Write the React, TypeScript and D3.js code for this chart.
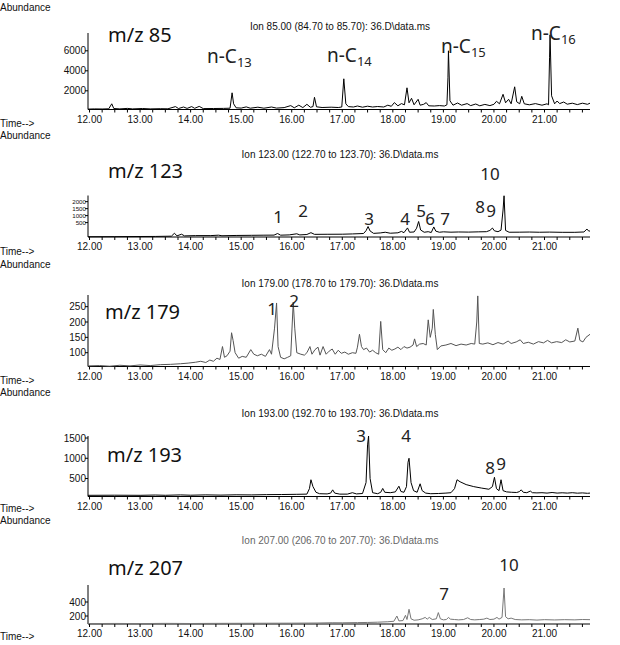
import React from "react";
import * as d3 from "d3";

type Pt = [number, number];

// ---------- data ----------
const timeTicks = [12, 13, 14, 15, 16, 17, 18, 19, 20, 21];
const minorTicks = d3.range(12, 21.9, 0.25);

const mz85: Pt[] = [
  [11.97, 170], [12.1, 190], [12.25, 180], [12.38, 200], [12.44, 700], [12.48, 230], [12.6, 190], [12.75, 240],
  [12.85, 190], [13.05, 230], [13.2, 190], [13.4, 210], [13.55, 200], [13.7, 420], [13.76, 230], [13.86, 380],
  [13.93, 240], [14.02, 420], [14.08, 250], [14.17, 440], [14.25, 220], [14.45, 230], [14.65, 240], [14.78, 260],
  [14.82, 1800], [14.85, 700], [14.9, 300], [15.0, 270], [15.1, 390], [15.18, 260], [15.33, 360], [15.45, 260],
  [15.6, 380], [15.7, 270], [15.85, 320], [15.98, 520], [16.05, 300], [16.14, 560], [16.22, 320], [16.3, 650],
  [16.37, 350], [16.42, 420], [16.45, 1350], [16.49, 400], [16.6, 330], [16.78, 360], [16.92, 330], [16.99, 380],
  [17.03, 3200], [17.07, 700], [17.12, 420], [17.22, 380], [17.3, 480], [17.4, 360], [17.5, 460], [17.6, 380],
  [17.7, 430], [17.82, 380], [17.9, 560], [17.97, 450], [18.03, 820], [18.1, 500], [18.17, 720], [18.23, 600],
  [18.28, 2300], [18.32, 800], [18.37, 1250], [18.42, 600], [18.5, 1150], [18.54, 560], [18.61, 650], [18.66, 820],
  [18.71, 500], [18.82, 480], [18.92, 520], [19.02, 480], [19.07, 600], [19.09, 3300], [19.1, 6000], [19.13, 1000],
  [19.19, 560], [19.28, 780], [19.36, 560], [19.47, 720], [19.54, 520], [19.64, 680], [19.72, 500], [19.82, 640],
  [19.92, 520], [20.0, 650], [20.05, 950], [20.11, 700], [20.18, 1650], [20.23, 800], [20.29, 1150], [20.34, 700],
  [20.41, 2400], [20.45, 900], [20.51, 700], [20.55, 1450], [20.6, 700], [20.7, 600], [20.82, 720], [20.95, 560],
  [21.05, 700], [21.08, 600], [21.1, 5300], [21.11, 7600], [21.14, 1500], [21.2, 700], [21.25, 980], [21.3, 720],
  [21.38, 880], [21.45, 660], [21.55, 760], [21.65, 620], [21.75, 760], [21.85, 650], [21.9, 760],
];

const mz123: Pt[] = [
  [11.97, -510], [12.5, -505], [13.0, -495], [13.3, -490], [13.62, -470], [13.68, -260], [13.73, -450], [13.82, -330],
  [13.88, -450], [14.1, -430], [14.4, -430], [14.55, -400], [14.62, -440], [14.9, -420], [15.2, -410], [15.45, -400],
  [15.65, -395], [15.72, -280], [15.78, -400], [15.95, -380], [16.1, -300], [16.16, -380], [16.3, -350], [16.38, -220],
  [16.45, -340], [16.7, -335], [17.0, -330], [17.2, -310], [17.42, -280], [17.47, -80], [17.51, 220], [17.55, -100],
  [17.62, -270], [17.75, -240], [17.85, -190], [17.95, -260], [18.1, -230], [18.17, -130], [18.22, -220], [18.29, 120],
  [18.33, -190], [18.42, -170], [18.47, 100], [18.51, 580], [18.55, -30], [18.62, -190], [18.7, -150], [18.76, -210],
  [18.81, 190], [18.85, -110], [18.92, -190], [19.0, -160], [19.15, -185], [19.3, -170], [19.5, -180], [19.7, -160],
  [19.85, -150], [19.92, -60], [19.97, 110], [20.01, -90], [20.08, -150], [20.14, -40], [20.18, 1400], [20.2, 2420],
  [20.23, -60], [20.3, -190], [20.5, -185], [20.7, -175], [20.9, -190], [21.1, -180], [21.35, -195], [21.6, -195],
  [21.78, -170], [21.84, 40], [21.87, -90], [21.9, -110],
];

const mz179: Pt[] = [
  [11.97, 57], [12.2, 58], [12.4, 56], [12.6, 59], [12.8, 57], [13.0, 60], [13.2, 58], [13.4, 61], [13.6, 62],
  [13.8, 64], [13.95, 66], [14.1, 69], [14.2, 72], [14.3, 68], [14.38, 76], [14.45, 72], [14.52, 82], [14.58, 78],
  [14.63, 120], [14.67, 85], [14.72, 90], [14.78, 105], [14.81, 165], [14.84, 140], [14.88, 100], [14.95, 82],
  [15.02, 88], [15.1, 85], [15.19, 110], [15.25, 95], [15.32, 90], [15.4, 95], [15.48, 88], [15.56, 110], [15.6, 95],
  [15.66, 180], [15.7, 262], [15.73, 120], [15.78, 85], [15.85, 80], [15.92, 85], [15.98, 90], [16.03, 265],
  [16.06, 180], [16.1, 100], [16.18, 95], [16.25, 92], [16.3, 100], [16.36, 120], [16.4, 95], [16.46, 110],
  [16.52, 118], [16.56, 92], [16.62, 120], [16.68, 95], [16.74, 105], [16.8, 112], [16.86, 95], [16.92, 108],
  [16.98, 98], [17.05, 102], [17.12, 95], [17.2, 100], [17.27, 98], [17.3, 118], [17.34, 160], [17.38, 120],
  [17.42, 110], [17.48, 115], [17.54, 102], [17.6, 108], [17.66, 100], [17.72, 95], [17.76, 202], [17.8, 110],
  [17.86, 100], [17.92, 115], [17.98, 108], [18.04, 112], [18.1, 118], [18.16, 110], [18.22, 120], [18.28, 115],
  [18.34, 118], [18.4, 125], [18.43, 145], [18.47, 120], [18.53, 128], [18.6, 130], [18.66, 125], [18.7, 207],
  [18.74, 150], [18.78, 180], [18.8, 241], [18.84, 160], [18.88, 110], [18.95, 122], [19.05, 125], [19.15, 130],
  [19.25, 123], [19.35, 128], [19.45, 125], [19.55, 130], [19.62, 128], [19.66, 200], [19.68, 285], [19.71, 130],
  [19.78, 128], [19.88, 132], [19.98, 126], [20.08, 133], [20.18, 128], [20.28, 138], [20.34, 130], [20.44, 135],
  [20.52, 142], [20.58, 130], [20.68, 134], [20.78, 128], [20.88, 136], [20.98, 132], [21.06, 140], [21.14, 132],
  [21.24, 136], [21.34, 133], [21.42, 142], [21.5, 135], [21.6, 138], [21.66, 180], [21.7, 140], [21.76, 135],
  [21.82, 150], [21.9, 160],
];

const mz193: Pt[] = [
  [11.97, 85], [12.5, 88], [13.0, 85], [13.3, 92], [13.5, 86], [13.8, 95], [14.0, 88], [14.3, 96], [14.6, 90],
  [14.9, 98], [15.2, 95], [15.5, 102], [15.8, 105], [16.1, 110], [16.3, 115], [16.35, 250], [16.38, 470],
  [16.42, 300], [16.48, 160], [16.55, 125], [16.7, 120], [16.77, 140], [16.81, 220], [16.85, 140], [16.95, 115],
  [17.1, 115], [17.2, 150], [17.28, 120], [17.4, 130], [17.47, 400], [17.5, 1330], [17.52, 1550], [17.55, 500],
  [17.6, 150], [17.7, 125], [17.76, 160], [17.8, 255], [17.84, 160], [17.95, 150], [18.05, 170], [18.12, 310],
  [18.16, 180], [18.22, 160], [18.27, 300], [18.3, 900], [18.32, 1000], [18.36, 400], [18.41, 200], [18.48, 160],
  [18.54, 370], [18.58, 200], [18.65, 140], [18.75, 125], [18.9, 130], [19.05, 140], [19.15, 150], [19.22, 250],
  [19.27, 470], [19.33, 420], [19.45, 350], [19.6, 300], [19.75, 265], [19.9, 235], [19.97, 300], [20.01, 530],
  [20.05, 250], [20.1, 200], [20.14, 470], [20.18, 200], [20.25, 170], [20.35, 160], [20.45, 155], [20.5, 175],
  [20.54, 220], [20.58, 160], [20.65, 150], [20.72, 190], [20.76, 150], [20.85, 145], [20.95, 150], [21.05, 140],
  [21.15, 155], [21.25, 140], [21.35, 148], [21.45, 140], [21.55, 150], [21.65, 138], [21.75, 145], [21.85, 135],
  [21.9, 140],
];

const mz207: Pt[] = [
  [11.97, 92], [12.5, 94], [13.0, 92], [13.5, 95], [14.0, 93], [14.5, 95], [15.0, 96], [15.5, 97], [16.0, 98],
  [16.5, 100], [16.8, 104], [17.0, 103], [17.3, 106], [17.5, 108], [17.7, 112], [17.9, 118], [18.02, 125],
  [18.08, 200], [18.12, 130], [18.2, 135], [18.25, 210], [18.28, 150], [18.32, 296], [18.36, 160], [18.42, 140],
  [18.5, 145], [18.58, 160], [18.64, 180], [18.68, 155], [18.72, 180], [18.78, 150], [18.86, 160], [18.9, 249],
  [18.94, 160], [19.0, 145], [19.06, 150], [19.1, 180], [19.14, 155], [19.22, 150], [19.3, 145], [19.4, 150],
  [19.48, 175], [19.54, 150], [19.62, 145], [19.72, 150], [19.8, 155], [19.86, 170], [19.92, 150], [20.0, 155],
  [20.06, 180], [20.1, 155], [20.16, 180], [20.2, 600], [20.23, 190], [20.28, 160], [20.34, 170], [20.42, 150],
  [20.55, 145], [20.7, 148], [20.85, 142], [21.0, 148], [21.2, 144], [21.4, 148], [21.6, 145], [21.75, 150],
  [21.9, 148],
];

const ticks85 = [2000, 4000, 6000];
const ticks123 = [500, 1000, 1500, 2000];
const ticks179 = [100, 150, 200, 250];
const ticks193 = [500, 1000, 1500];
const ticks207 = [200, 400];

const titles = [
  "Ion 85.00 (84.70 to 85.70): 36.D\\data.ms",
  "Ion 123.00 (122.70 to 123.70): 36.D\\data.ms",
  "Ion 179.00 (178.70 to 179.70): 36.D\\data.ms",
  "Ion 193.00 (192.70 to 193.70): 36.D\\data.ms",
  "Ion 207.00 (206.70 to 207.70): 36.D\\data.ms",
];
const ionNames = ["m/z 85", "m/z 123", "m/z 179", "m/z 193", "m/z 207"];

// annotation texts: [text, subscript]
const alkaneLabels: [string, string][] = [["n-C", "13"], ["n-C", "14"], ["n-C", "15"], ["n-C", "16"]];
const peakNums123 = ["1", "2", "3", "4", "5", "6", "7", "8", "9", "10"];
const peakNums179 = ["1", "2"];
const peakNums193 = ["3", "4", "8", "9"];
const peakNums207 = ["7", "10"];

// ---------- layout ----------
const X0 = 88;
const X1 = 590;
const SMALL = "'Liberation Sans', Arial, sans-serif";
const BIG = "'Noto Sans', 'DejaVu Sans', sans-serif";

type Panel = {
  data: Pt[];
  ticks: number[];
  tickFont: number;
  domain: [number, number];
  axisY: number;
  topY: number;
  titleY: number;
  abundY: number;
  timeY: number;
  color: string;
  titleColor: string;
  nameX: number;
  nameY: number;
  marks: { text: string; sub?: string; x: number; y: number }[];
};

const panels: Panel[] = [
  {
    data: mz85, ticks: ticks85, tickFont: 10, domain: [130, 7780], axisY: 109.5, topY: 33, titleY: 30, abundY: 11, timeY: 127,
    color: "#000", titleColor: "#111", nameX: 108, nameY: 42,
    marks: [
      { text: alkaneLabels[0][0], sub: alkaneLabels[0][1], x: 207, y: 63 },
      { text: alkaneLabels[1][0], sub: alkaneLabels[1][1], x: 327, y: 62 },
      { text: alkaneLabels[2][0], sub: alkaneLabels[2][1], x: 441, y: 53 },
      { text: alkaneLabels[3][0], sub: alkaneLabels[3][1], x: 531, y: 40 },
    ],
  },
  {
    data: mz123, ticks: ticks123, tickFont: 6.2, domain: [-530, 2440], axisY: 237, topY: 195.5, titleY: 158, abundY: 139, timeY: 255,
    color: "#000", titleColor: "#111", nameX: 108, nameY: 178,
    marks: [
      { text: peakNums123[0], x: 278, y: 223 },
      { text: peakNums123[1], x: 303, y: 217 },
      { text: peakNums123[2], x: 369, y: 225 },
      { text: peakNums123[3], x: 405, y: 225 },
      { text: peakNums123[4], x: 421, y: 217 },
      { text: peakNums123[5], x: 430, y: 225 },
      { text: peakNums123[6], x: 445, y: 225 },
      { text: peakNums123[7], x: 480, y: 213 },
      { text: peakNums123[8], x: 491, y: 217 },
      { text: peakNums123[9], x: 490, y: 180 },
    ],
  },
  {
    data: mz179, ticks: ticks179, tickFont: 10, domain: [55, 288], axisY: 366.5, topY: 295, titleY: 287, abundY: 268, timeY: 384,
    color: "#555", titleColor: "#111", nameX: 105, nameY: 319,
    marks: [
      { text: peakNums179[0], x: 272, y: 315 },
      { text: peakNums179[1], x: 294, y: 307 },
    ],
  },
  {
    data: mz193, ticks: ticks193, tickFont: 10, domain: [56, 1550], axisY: 496.5, topY: 436, titleY: 417, abundY: 396, timeY: 512,
    color: "#000", titleColor: "#111", nameX: 107, nameY: 462,
    marks: [
      { text: peakNums193[0], x: 361, y: 442 },
      { text: peakNums193[1], x: 406, y: 442 },
      { text: peakNums193[2], x: 490, y: 474 },
      { text: peakNums193[3], x: 501, y: 470 },
    ],
  },
  {
    data: mz207, ticks: ticks207, tickFont: 10, domain: [86, 643], axisY: 624, topY: 585, titleY: 544, abundY: 524, timeY: 640,
    color: "#777", titleColor: "#666", nameX: 108, nameY: 575,
    marks: [
      { text: peakNums207[0], x: 444, y: 600 },
      { text: peakNums207[1], x: 509, y: 571 },
    ],
  },
];

function PanelView({ p, idx, x }: { p: Panel; idx: number; x: d3.ScaleLinear<number, number> }) {
  const y = d3.scaleLinear().domain(p.domain).range([p.axisY, p.topY]);
  const line = d3
    .line<Pt>()
    .x((d) => x(d[0]))
    .y((d) => y(d[1]));
  return (
    <g>
      <text x={0} y={p.abundY} fontFamily={SMALL} fontSize={10} fill="#111">Abundance</text>
      <text x={0} y={p.timeY} fontFamily={SMALL} fontSize={10} fill="#111">Time--&gt;</text>
      <text x={340} y={p.titleY} textAnchor="middle" fontFamily={SMALL} fontSize={10} fill={p.titleColor}>
        {titles[idx]}
      </text>
      <line x1={X0} x2={X1} y1={p.axisY} y2={p.axisY} stroke="#000" strokeWidth={1} />
      <line x1={X0} x2={X0} y1={p.axisY} y2={p.topY} stroke="#000" strokeWidth={1} />
      {minorTicks.map((t, i) => (
        <line key={"m" + i} x1={x(t)} x2={x(t)} y1={p.axisY} y2={p.axisY + 3} stroke="#000" strokeWidth={1} />
      ))}
      {timeTicks.map((t) => (
        <text key={t} x={x(t)} y={p.axisY + 13} textAnchor="middle" fontFamily={SMALL} fontSize={10} fill="#111">
          {t.toFixed(2)}
        </text>
      ))}
      {p.ticks.map((v) => (
        <g key={v}>
          <line x1={X0 - 3} x2={X0} y1={y(v)} y2={y(v)} stroke="#000" />
          <text x={X0 - 2} y={y(v) + p.tickFont * 0.35} textAnchor="end" fontFamily={SMALL} fontSize={p.tickFont} fill="#111">
            {v}
          </text>
        </g>
      ))}
      <path d={line(p.data) || ""} fill="none" stroke={p.color} strokeWidth={1} />
      <text x={p.nameX} y={p.nameY} fontFamily={BIG} fontSize={20} fill="#111">
        {ionNames[idx]}
      </text>
      {p.marks.map((m, i) => (
        <text key={i} x={m.x} y={m.y} fontFamily={BIG} fontSize={m.sub ? 19 : 17}
          textAnchor={m.sub ? "start" : "middle"} fill="#222">
          {m.text}
          {m.sub ? <tspan dy={4} fontSize={13}>{m.sub}</tspan> : null}
        </text>
      ))}
    </g>
  );
}

export default function App() {
  const x = d3.scaleLinear().domain([11.97, 21.9]).range([X0, X1]);
  return (
    <svg width={620} height={645} style={{ position: "absolute", left: 0, top: 0, background: "#fff" }}>
      <rect x={0} y={0} width={620} height={645} fill="#fff" />
      {panels.map((p, i) => (
        <PanelView key={i} p={p} idx={i} x={x} />
      ))}
    </svg>
  );
}
